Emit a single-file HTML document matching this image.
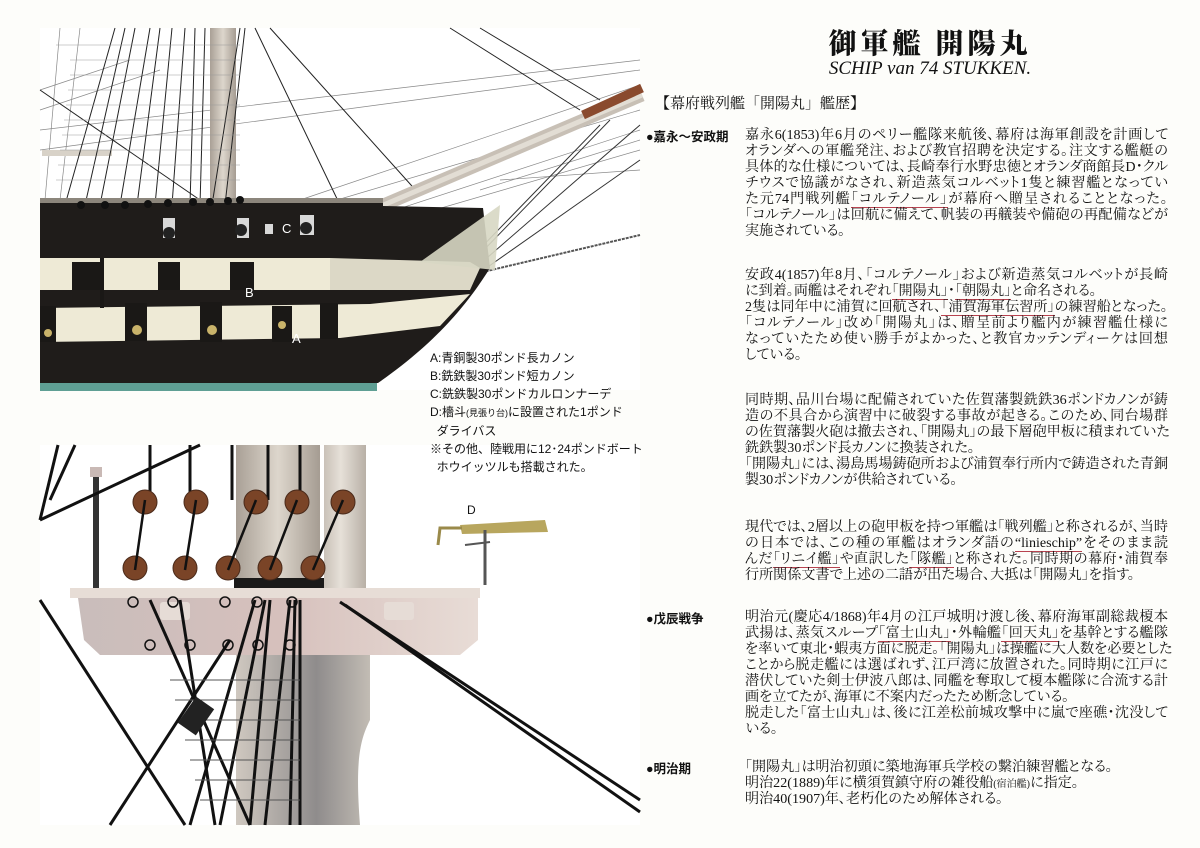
<!DOCTYPE html>
<html><head><meta charset="utf-8">
<style>
html,body{margin:0;padding:0;background:#fdfdfa;}
#pg{position:relative;width:1200px;height:848px;overflow:hidden;background:#fdfdfa;}
.t{position:absolute;left:745px;width:423px;font-family:"Liberation Serif","Noto Serif CJK JP",serif;font-size:14.1px;line-height:16px;color:#111;font-feature-settings:"palt";}
.t div{text-align:justify;text-align-last:justify;white-space:nowrap;height:16px;}
.t div.l{text-align-last:left;}
.u{border-bottom:1.5px solid #b8434f;}
.lab{position:absolute;left:646px;font-family:"Liberation Sans","Noto Sans CJK JP",sans-serif;font-size:12.5px;font-weight:bold;color:#111;}
.leg{position:absolute;left:430px;font-family:"Liberation Sans","Noto Sans CJK JP",sans-serif;font-size:12px;color:#111;line-height:18px;}
</style></head><body><div id="pg">

<svg width="1200" height="848" style="position:absolute;left:0;top:0">
<defs>
<linearGradient id="mast" x1="0" x2="1"><stop offset="0" stop-color="#a9a096"/><stop offset=".5" stop-color="#ddd6cc"/><stop offset="1" stop-color="#a59c92"/></linearGradient>
<linearGradient id="mast2" x1="0" x2="1"><stop offset="0" stop-color="#c9c1b8"/><stop offset=".4" stop-color="#e6e0d8"/><stop offset="1" stop-color="#b8b0a6"/></linearGradient>
<linearGradient id="plat" x1="0" x2="1"><stop offset="0" stop-color="#c9bdbb"/><stop offset=".5" stop-color="#d6c0bc"/><stop offset="1" stop-color="#e8dcd6"/></linearGradient>
<linearGradient id="low" x1="0" x2="1"><stop offset="0" stop-color="#cfc8c0"/><stop offset=".6" stop-color="#8f8c8c"/><stop offset="1" stop-color="#c2bcb4"/></linearGradient>
</defs>
<rect x="40" y="28" width="600" height="362" fill="#fff"/>
<g stroke="#888" stroke-width="0.7" fill="none">
<line x1="40" y1="130" x2="640" y2="60"/><line x1="40" y1="150" x2="640" y2="70"/>
<line x1="300" y1="200" x2="640" y2="85"/><line x1="320" y1="205" x2="640" y2="110"/>
<line x1="380" y1="215" x2="640" y2="130"/><line x1="400" y1="220" x2="640" y2="150"/>
<line x1="500" y1="180" x2="640" y2="170"/><line x1="480" y1="190" x2="640" y2="140"/>
<line x1="40" y1="90" x2="130" y2="60"/><line x1="40" y1="110" x2="160" y2="70"/>
<line x1="60" y1="28" x2="45" y2="200"/><line x1="80" y1="28" x2="60" y2="200"/>
</g>
<rect x="42" y="150" width="70" height="6" fill="#d8d2c8"/>
<rect x="210" y="28" width="26" height="175" fill="url(#mast)"/>
<g stroke="#222" stroke-width="1">
<line x1="115" y1="28" x2="65" y2="205"/><line x1="125" y1="28" x2="85" y2="205"/><line x1="135" y1="28" x2="100" y2="205"/>
<line x1="150" y1="28" x2="120" y2="205"/><line x1="160" y1="28" x2="137" y2="205"/><line x1="172" y1="28" x2="155" y2="205"/>
<line x1="185" y1="28" x2="172" y2="205"/><line x1="195" y1="28" x2="190" y2="205"/><line x1="205" y1="28" x2="200" y2="205"/>
<line x1="240" y1="28" x2="212" y2="205"/><line x1="245" y1="28" x2="225" y2="205"/>
<line x1="40" y1="90" x2="200" y2="200"/>
<line x1="255" y1="28" x2="340" y2="205"/>
<line x1="270" y1="28" x2="420" y2="195"/>
<line x1="450" y1="28" x2="580" y2="110"/><line x1="480" y1="28" x2="600" y2="100"/>
</g>
<g stroke="#999" stroke-width="0.5">
<line x1="70" y1="60" x2="240" y2="60"/><line x1="70" y1="75" x2="240" y2="75"/><line x1="68" y1="90" x2="240" y2="90"/>
<line x1="66" y1="105" x2="240" y2="105"/><line x1="64" y1="120" x2="240" y2="120"/><line x1="62" y1="135" x2="240" y2="135"/>
<line x1="60" y1="150" x2="240" y2="150"/><line x1="58" y1="165" x2="240" y2="165"/><line x1="56" y1="180" x2="240" y2="180"/>
<line x1="56" y1="45" x2="240" y2="45"/>
</g>
<line x1="360" y1="215" x2="642" y2="95" stroke="#c8c0b6" stroke-width="13"/>
<line x1="360" y1="215" x2="642" y2="95" stroke="#e2ddd4" stroke-width="5"/>
<line x1="583" y1="115" x2="642" y2="88" stroke="#8a4a2e" stroke-width="9"/>
<g stroke="#333" stroke-width="1"><line x1="440" y1="290" x2="600" y2="125"/><line x1="445" y1="290" x2="610" y2="120"/><line x1="450" y1="290" x2="640" y2="125"/><line x1="455" y1="290" x2="640" y2="160"/></g>
<line x1="470" y1="275" x2="640" y2="235" stroke="#555" stroke-width="2" stroke-dasharray="3 1"/>
<path d="M40,200 L383,198 L383,206 L483,208 L490,268 C470,300 440,340 378,383 L40,383 Z" fill="#1f1c1a"/>
<rect x="40" y="198" width="343" height="5" fill="#8c867c"/>
<path d="M40,258 L330,258 L330,290 L40,290 Z" fill="#eeead6"/>
<path d="M330,258 L470,262 L480,268 L470,290 L330,290 Z" fill="#dcd8c6"/>
<path d="M40,308 L370,304 L470,294 L440,326 L340,338 L40,342 Z" fill="#eeead6"/>
<path d="M420,262 L500,205 L495,270 Z" fill="#d7d7c3" opacity=".9"/>
<g fill="#1a1816">
<rect x="72" y="262" width="28" height="28"/><rect x="158" y="262" width="22" height="28"/><rect x="230" y="262" width="24" height="28"/>
<rect x="40" y="306" width="16" height="36"/><rect x="125" y="303" width="22" height="38"/><rect x="200" y="302" width="22" height="40"/><rect x="272" y="306" width="20" height="36"/><rect x="320" y="303" width="18" height="36"/>
<rect x="100" y="258" width="4" height="50"/>
</g>
<g fill="#c9b36a"><circle cx="48" cy="333" r="4"/><circle cx="137" cy="330" r="5"/><circle cx="212" cy="330" r="5"/><circle cx="282" cy="325" r="4"/></g>
<g fill="#d8d8d8"><rect x="163" y="218" width="12" height="20"/><rect x="237" y="218" width="12" height="20"/><rect x="265" y="224" width="8" height="10"/><rect x="300" y="215" width="14" height="20"/></g>
<g fill="#222"><circle cx="169" cy="233" r="6"/><circle cx="241" cy="230" r="6"/><circle cx="306" cy="228" r="6"/></g>
<g fill="#111"><circle cx="81" cy="205" r="4"/><circle cx="105" cy="205" r="4"/><circle cx="125" cy="205" r="4"/><circle cx="148" cy="204" r="4"/><circle cx="168" cy="203" r="4"/><circle cx="193" cy="202" r="4"/><circle cx="210" cy="202" r="4"/><circle cx="228" cy="201" r="4"/><circle cx="240" cy="200" r="4"/></g>
<rect x="40" y="383" width="337" height="8" fill="#5f9f94"/>
<g font-family="Liberation Sans,sans-serif" font-size="13" fill="#fff"><text x="282" y="233">C</text><text x="245" y="297">B</text><text x="292" y="343">A</text></g>

<rect x="40" y="445" width="600" height="380" fill="#fff"/>
<rect x="324" y="445" width="42" height="145" fill="url(#mast2)"/>
<rect x="236" y="445" width="84" height="145" fill="url(#mast)"/>
<path d="M236,655 L370,655 L370,720 C360,740 355,760 360,825 L236,825 Z" fill="url(#low)"/>
<rect x="234" y="578" width="90" height="12" fill="#1b1a19"/>
<rect x="90" y="467" width="12" height="10" fill="#c9b9b5"/>
<rect x="93" y="477" width="6" height="113" fill="#333"/>
<rect x="70" y="588" width="410" height="10" fill="#e7ddd6"/>
<path d="M78,598 L478,598 L478,640 L460,655 L100,655 L84,640 Z" fill="url(#plat)"/>
<rect x="160" y="602" width="30" height="18" rx="3" fill="#e6dcd6"/><rect x="384" y="602" width="30" height="18" rx="3" fill="#e6dcd6"/>
<g stroke="#111" stroke-width="3" fill="none">
<line x1="50" y1="500" x2="75" y2="445"/><line x1="40" y1="520" x2="58" y2="445"/>
<line x1="40" y1="520" x2="200" y2="445"/>
<line x1="40" y1="600" x2="185" y2="825"/>
<line x1="150" y1="445" x2="150" y2="500"/><line x1="190" y1="445" x2="190" y2="500"/><line x1="232" y1="445" x2="232" y2="500"/><line x1="268" y1="445" x2="268" y2="500"/><line x1="300" y1="445" x2="300" y2="500"/>
<line x1="340" y1="602" x2="640" y2="800"/><line x1="345" y1="605" x2="640" y2="812"/>
<line x1="150" y1="600" x2="250" y2="825"/><line x1="180" y1="600" x2="215" y2="825"/>
<line x1="255" y1="600" x2="190" y2="825"/><line x1="265" y1="600" x2="220" y2="825"/><line x1="270" y1="600" x2="250" y2="825"/><line x1="290" y1="600" x2="265" y2="825"/><line x1="295" y1="600" x2="290" y2="825"/><line x1="300" y1="600" x2="300" y2="825"/>
<line x1="230" y1="640" x2="110" y2="825"/>
</g>
<g stroke="#555" stroke-width="1"><line x1="170" y1="680" x2="300" y2="680"/><line x1="175" y1="700" x2="300" y2="700"/><line x1="180" y1="720" x2="300" y2="720"/><line x1="185" y1="740" x2="300" y2="740"/><line x1="190" y1="760" x2="300" y2="760"/><line x1="195" y1="780" x2="300" y2="780"/><line x1="200" y1="800" x2="300" y2="800"/></g>
<rect x="185" y="700" width="22" height="32" fill="#222" transform="rotate(35 196 716)"/>
<g fill="#7a4427" stroke="#4a2a1a"><circle cx="145" cy="502" r="12"/><circle cx="196" cy="502" r="12"/><circle cx="256" cy="502" r="12"/><circle cx="297" cy="502" r="12"/><circle cx="343" cy="502" r="12"/>
<circle cx="135" cy="568" r="12"/><circle cx="185" cy="568" r="12"/><circle cx="228" cy="568" r="12"/><circle cx="270" cy="568" r="12"/><circle cx="313" cy="568" r="12"/></g>
<g stroke="#111" stroke-width="2.5"><line x1="145" y1="500" x2="135" y2="570"/><line x1="196" y1="500" x2="185" y2="570"/><line x1="256" y1="500" x2="228" y2="570"/><line x1="297" y1="500" x2="270" y2="570"/><line x1="343" y1="500" x2="313" y2="570"/></g>
<g stroke="#111" stroke-width="1.5" fill="none"><circle cx="133" cy="602" r="5"/><circle cx="173" cy="602" r="5"/><circle cx="225" cy="602" r="5"/><circle cx="257" cy="602" r="5"/><circle cx="292" cy="602" r="5"/>
<circle cx="150" cy="645" r="5"/><circle cx="190" cy="645" r="5"/><circle cx="228" cy="645" r="5"/><circle cx="258" cy="645" r="5"/><circle cx="290" cy="645" r="5"/></g>
<path d="M460,525 L545,520 L548,532 L462,534 Z" fill="#b8a65e"/>
<path d="M462,528 L440,528 L438,545" stroke="#9a8a4a" stroke-width="3" fill="none"/>
<line x1="485" y1="530" x2="485" y2="585" stroke="#555" stroke-width="3"/>
<line x1="465" y1="545" x2="490" y2="542" stroke="#555" stroke-width="2"/>
<text x="467" y="514" font-family="Liberation Sans,sans-serif" font-size="12" fill="#111">D</text>
</svg>

<div class="leg" style="top:349px">A:青銅製30ポンド長カノン<br>B:銑鉄製30ポンド短カノン<br>C:銑鉄製30ポンドカルロンナーデ<br>D:檣斗<span style="font-size:9px">(見張り台)</span>に設置された1ポンド<br>&nbsp;&nbsp;ダライバス<br>※その他、陸戦用に12･24ポンドボート<br>&nbsp;&nbsp;ホウイッツルも搭載された。</div>

<div style="position:absolute;left:740px;width:380px;top:22px;text-align:center;font-family:'Noto Serif CJK JP',serif;font-weight:900;font-size:28px;letter-spacing:4px;color:#111">御軍艦 開陽丸</div>
<div style="position:absolute;left:740px;width:380px;top:58px;text-align:center;font-family:'Liberation Serif',serif;font-style:italic;font-size:19px;color:#111">SCHIP van 74 STUKKEN.</div>
<div style="position:absolute;left:655px;top:92px;font-family:'Liberation Serif','Noto Serif CJK JP',serif;font-size:15px;color:#111">【幕府戦列艦「開陽丸」艦歴】</div>

<div class="lab" style="top:126px">●嘉永～安政期</div>
<div class="lab" style="top:608px">●戊辰戦争</div>
<div class="lab" style="top:758px">●明治期</div>

<div class="t" style="top:127px">
<div>嘉永6(1853)年6月のペリー艦隊来航後、幕府は海軍創設を計画して</div>
<div>オランダへの軍艦発注、および教官招聘を決定する。注文する艦艇の</div>
<div>具体的な仕様については、長崎奉行水野忠徳とオランダ商館長D･クル</div>
<div>チウスで協議がなされ、新造蒸気コルベット1隻と練習艦となってい</div>
<div>た元74門戦列艦<span class="u">「コルテノール」</span>が幕府へ贈呈されることとなった。</div>
<div>「コルテノール」は回航に備えて、帆装の再艤装や備砲の再配備などが</div>
<div class="l">実施されている。</div>
</div>
<div class="t" style="top:267px">
<div>安政4(1857)年8月、「コルテノール」および新造蒸気コルベットが長崎</div>
<div class="l">に到着。両艦はそれぞれ<span class="u">「開陽丸」</span>･<span class="u">「朝陽丸」</span>と命名される。</div>
<div>2隻は同年中に浦賀に回航され、<span class="u">「浦賀海軍伝習所」</span>の練習船となった。</div>
<div>「コルテノール」改め「開陽丸」は、贈呈前より艦内が練習艦仕様に</div>
<div>なっていたため使い勝手がよかった、と教官カッテンディーケは回想</div>
<div class="l">している。</div>
</div>
<div class="t" style="top:392px">
<div>同時期、品川台場に配備されていた佐賀藩製銑鉄36ポンドカノンが鋳</div>
<div>造の不具合から演習中に破裂する事故が起きる。このため、同台場群</div>
<div>の佐賀藩製火砲は撤去され、「開陽丸」の最下層砲甲板に積まれていた</div>
<div class="l">銑鉄製30ポンド長カノンに換装された。</div>
<div>「開陽丸」には、湯島馬場鋳砲所および浦賀奉行所内で鋳造された青銅</div>
<div class="l">製30ポンドカノンが供給されている。</div>
</div>
<div class="t" style="top:519px">
<div>現代では、2層以上の砲甲板を持つ軍艦は「戦列艦」と称されるが、当時</div>
<div>の日本では、この種の軍艦はオランダ語の<span class="u">“linieschip”</span>をそのまま読</div>
<div>んだ<span class="u">「リニイ艦」</span>や直訳した<span class="u">「隊艦」</span>と称された。同時期の幕府･浦賀奉</div>
<div class="l">行所関係文書で上述の二語が出た場合、大抵は「開陽丸」を指す。</div>
</div>
<div class="t" style="top:609px">
<div>明治元(慶応4/1868)年4月の江戸城明け渡し後、幕府海軍副総裁榎本</div>
<div>武揚は、蒸気スループ<span class="u">「富士山丸」</span>･外輪艦<span class="u">「回天丸」</span>を基幹とする艦隊</div>
<div>を率いて東北･蝦夷方面に脱走。「開陽丸」は操艦に大人数を必要とした</div>
<div>ことから脱走艦には選ばれず、江戸湾に放置された。同時期に江戸に</div>
<div>潜伏していた剣士伊波八郎は、同艦を奪取して榎本艦隊に合流する計</div>
<div class="l">画を立てたが、海軍に不案内だったため断念している。</div>
<div>脱走した「富士山丸」は、後に江差松前城攻撃中に嵐で座礁･沈没して</div>
<div class="l">いる。</div>
</div>
<div class="t" style="top:759px">
<div class="l">「開陽丸」は明治初頭に築地海軍兵学校の繋泊練習艦となる。</div>
<div class="l">明治22(1889)年に横須賀鎮守府の雑役船<span style="font-size:10px">(宿泊艦)</span>に指定。</div>
<div class="l">明治40(1907)年、老朽化のため解体される。</div>
</div>
</div></body></html>
